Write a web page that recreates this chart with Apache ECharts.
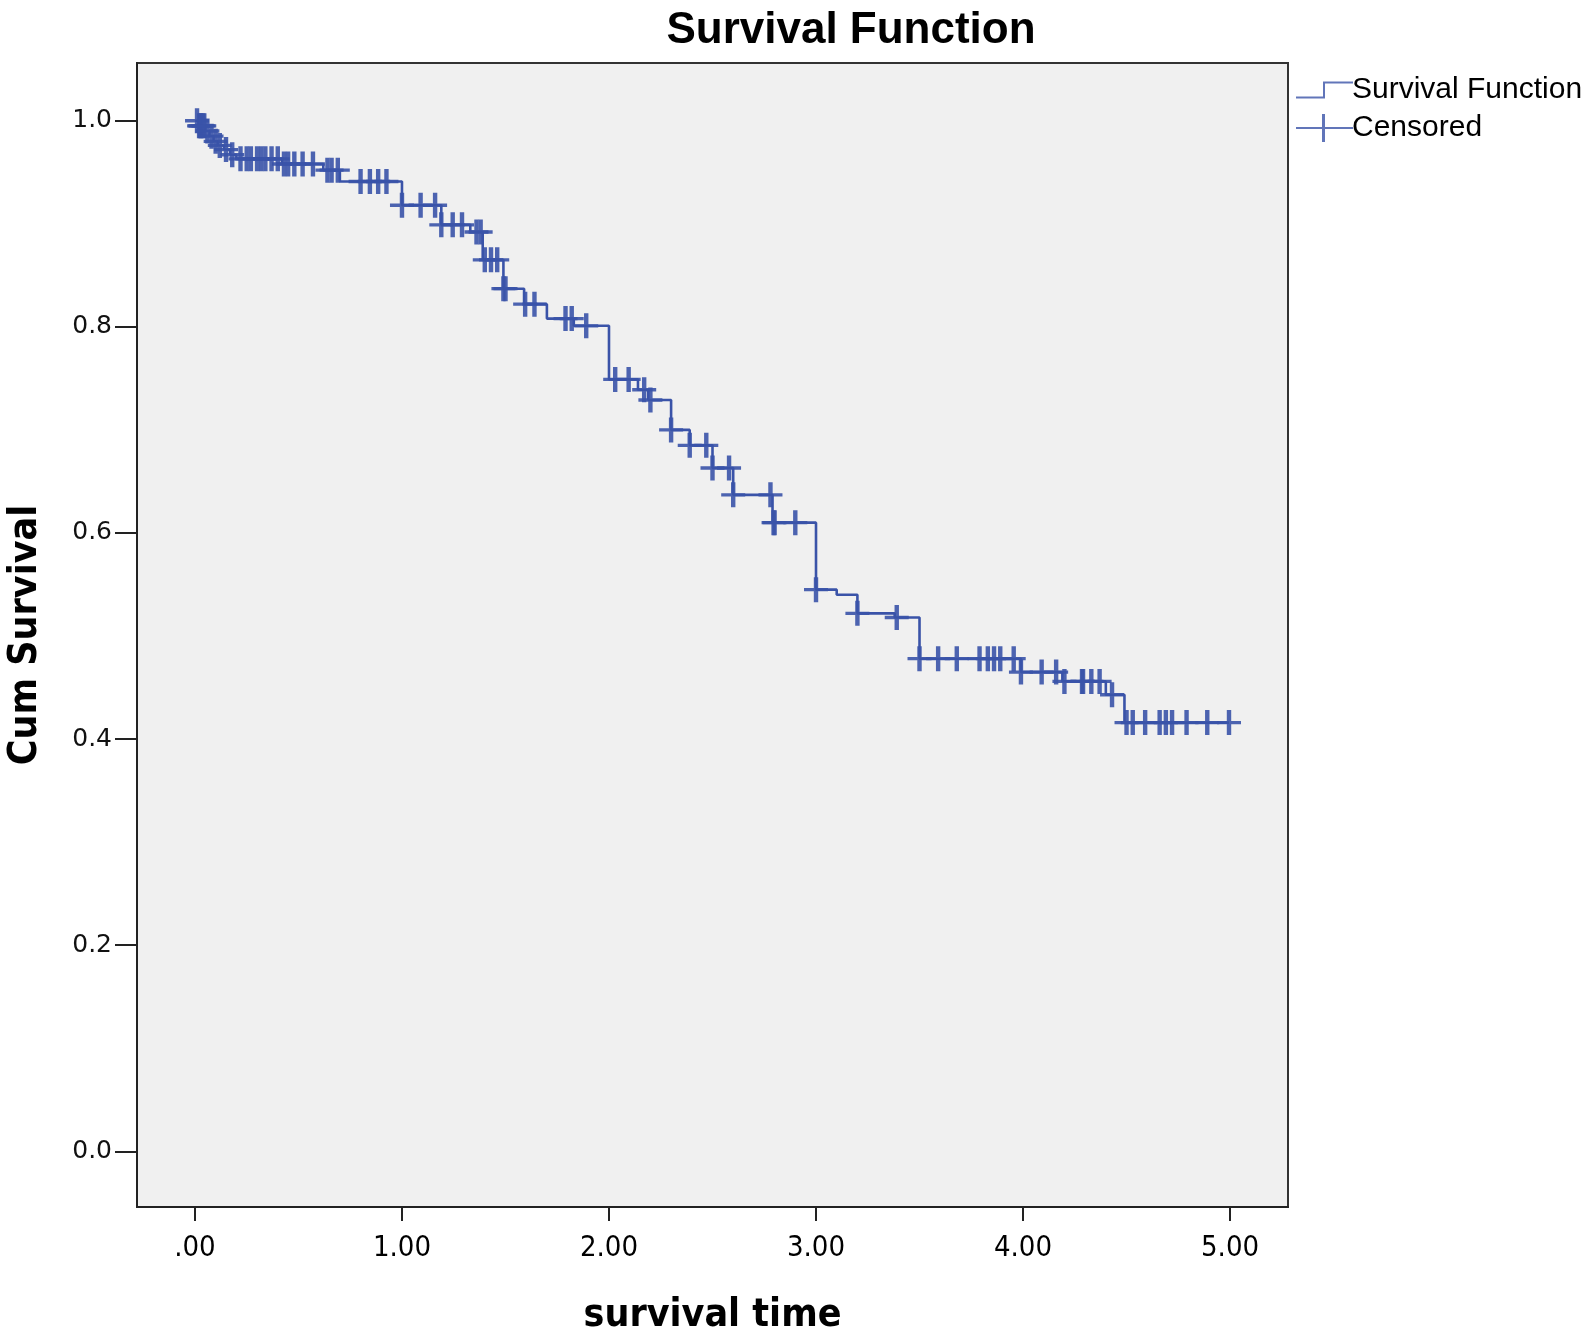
<!DOCTYPE html>
<html>
<head>
<meta charset="utf-8">
<script src="https://cdn.jsdelivr.net/npm/echarts@6/dist/echarts.min.js"></script>
<style>
html,body{margin:0;padding:0;background:#fff;}
#chart{width:1593px;height:1336px;}
</style>
</head>
<body>
<div id="chart"></div>
<script>
// Kaplan-Meier step function: event times and survival after each event
const stepTimes = [0, 0.02, 0.05, 0.07, 0.09, 0.11, 0.14, 0.17, 0.20, 0.42, 0.62, 0.70, 1.00, 1.19, 1.33, 1.39, 1.49, 1.59, 1.70, 1.83, 2.00, 2.14, 2.19, 2.30, 2.39, 2.50, 2.60, 2.79, 3.00, 3.10, 3.20, 3.38, 3.50, 3.99, 4.19, 4.40, 4.49];
const stepSurv  = [1.0, 0.995, 0.990, 0.985, 0.980, 0.976, 0.972, 0.967, 0.963, 0.958, 0.952, 0.941, 0.918, 0.899, 0.892, 0.865, 0.837, 0.822, 0.808, 0.801, 0.749, 0.739, 0.729, 0.700, 0.685, 0.663, 0.637, 0.610, 0.545, 0.540, 0.522, 0.518, 0.478, 0.465, 0.456, 0.443, 0.416];
const endTime = 4.995;
// censored observation times
const censorTimes = [0.01, 0.02, 0.025, 0.03, 0.04, 0.045, 0.06, 0.08, 0.10, 0.12, 0.15, 0.18, 0.22, 0.25, 0.27, 0.30, 0.32, 0.34, 0.37, 0.40, 0.43, 0.45, 0.48, 0.52, 0.57, 0.64, 0.66, 0.69, 0.80, 0.845, 0.885, 0.925, 1.00, 1.09, 1.16, 1.19, 1.245, 1.29, 1.36, 1.38, 1.40, 1.43, 1.46, 1.49, 1.50, 1.595, 1.64, 1.79, 1.82, 1.89, 2.03, 2.095, 2.17, 2.20, 2.30, 2.39, 2.47, 2.50, 2.58, 2.60, 2.78, 2.795, 2.80, 2.90, 3.00, 3.20, 3.39, 3.50, 3.59, 3.68, 3.79, 3.83, 3.86, 3.89, 3.955, 3.99, 4.09, 4.16, 4.20, 4.285, 4.29, 4.33, 4.37, 4.43, 4.50, 4.53, 4.59, 4.66, 4.69, 4.72, 4.79, 4.89, 4.995];
const xTicks = [0, 1, 2, 3, 4, 5];
const yTicks = [0, 0.2, 0.4, 0.6, 0.8, 1.0];

const BLUE = '#3a53a8';
const NARROW = 'Liberation Sans Narrow, DejaVu Sans Condensed, Liberation Sans, sans-serif';

function survAt(t) {
  let s = stepSurv[0];
  for (let i = 0; i < stepTimes.length; i++) {
    if (stepTimes[i] <= t + 1e-9) s = stepSurv[i];
  }
  return s;
}
const lineData = stepTimes.map((t, i) => [t, stepSurv[i]]);
lineData.push([endTime, stepSurv[stepSurv.length - 1]]);
const censorData = censorTimes.map(t => [t, survAt(t)]);

const chart = echarts.init(document.getElementById('chart'));
const option = {
  animation: false,
  backgroundColor: '#ffffff',
  title: {
    text: 'Survival Function',
    left: 846,
    textAlign: 'center',
    top: 4,
    textStyle: { fontFamily: 'Liberation Sans, Arial, sans-serif', fontWeight: 'bold', fontSize: 44, color: '#000' }
  },
  legend: {
    orient: 'vertical',
    left: 1291,
    top: 70,
    itemWidth: 57,
    itemHeight: 28,
    itemGap: 8,
    textStyle: { fontFamily: 'Liberation Sans, Arial, sans-serif', fontSize: 30, lineHeight: 30, color: '#000', padding: [0, 0, 0, -6] },
    data: [
      { name: 'Survival Function', icon: 'path://M0,21 L27,21 L27,6 L57,6 L57,8 L29,8 L29,23 L0,23 Z', itemStyle: { color: BLUE, opacity: 0.8 } },
      { name: 'Censored', icon: 'path://M0,13 L57,13 L57,15 L0,15 Z M26,0 L29,0 L29,28 L26,28 Z', itemStyle: { color: BLUE, opacity: 0.8 } }
    ]
  },
  grid: {
    left: 137,
    top: 63,
    right: 305,
    bottom: 129,
    outerBoundsMode: 'none',
    containLabel: false,
    show: true,
    backgroundColor: '#f0f0f0',
    borderColor: '#333',
    borderWidth: 2
  },
  xAxis: {
    type: 'value',
    min: -0.28,
    max: 5.28,
    name: 'survival time',
    nameLocation: 'middle',
    nameGap: 89,
    nameTextStyle: { fontFamily: NARROW, fontWeight: 'bold', fontSize: 39, color: '#000' },
    axisLine: { show: true, onZero: false, lineStyle: { color: '#222', width: 2 } },
    axisTick: { show: true, customValues: xTicks, length: 14, lineStyle: { color: '#222', width: 2 } },
    axisLabel: {
      customValues: xTicks,
      margin: 27,
      fontFamily: NARROW,
      fontSize: 29,
      color: '#000',
      formatter: v => (v === 0 ? '.00' : v.toFixed(2))
    },
    splitLine: { show: false }
  },
  yAxis: {
    type: 'value',
    min: -0.054,
    max: 1.056,
    name: 'Cum Survival',
    nameLocation: 'middle',
    nameGap: 92,
    nameTextStyle: { fontFamily: NARROW, fontWeight: 'bold', fontSize: 39, color: '#000' },
    axisLine: { show: true, onZero: false, lineStyle: { color: '#222', width: 2 } },
    axisTick: { show: true, customValues: yTicks, length: 22, lineStyle: { color: '#222', width: 2 } },
    axisLabel: {
      customValues: yTicks,
      margin: 25,
      fontFamily: 'DejaVu Sans, sans-serif',
      fontSize: 25,
      color: '#111',
      formatter: v => v.toFixed(1)
    },
    splitLine: { show: false }
  },
  series: [
    {
      name: 'Survival Function',
      type: 'line',
      step: 'end',
      data: lineData,
      showSymbol: false,
      symbol: 'none',
      lineStyle: { color: BLUE, width: 2.6 },
      itemStyle: { color: BLUE },
      z: 2
    },
    {
      name: 'Censored',
      type: 'scatter',
      data: censorData,
      symbol: 'path://M9.8,0 L14.2,0 L14.2,24 L9.8,24 Z M0,10.4 L24,10.4 L24,13.6 L0,13.6 Z',
      symbolSize: [24, 25],
      itemStyle: { color: BLUE, opacity: 0.9 },
      z: 3
    }
  ]
};
chart.setOption(option);
</script>
</body>
</html>
